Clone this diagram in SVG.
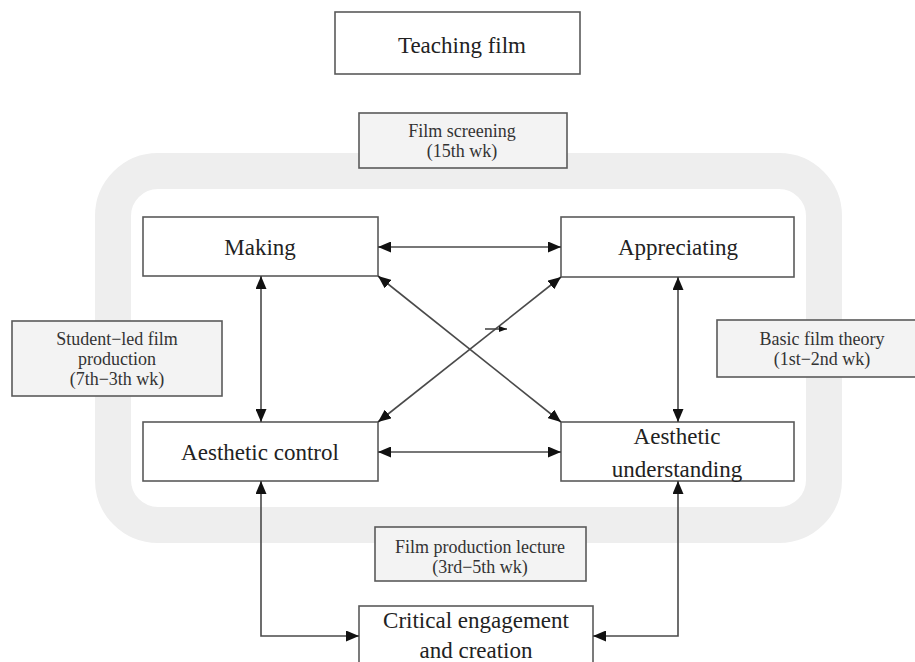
<svg xmlns="http://www.w3.org/2000/svg" width="915" height="662" viewBox="0 0 915 662">
<defs>
<style>
.box{fill:#ffffff;stroke:#5a5a5a;stroke-width:1.6}
.gbox{fill:#f3f3f3;stroke:#5a5a5a;stroke-width:1.6}
.t{font-family:"Liberation Serif","Times New Roman",serif;font-size:23px;fill:#222222;text-anchor:middle}
.s{font-family:"Liberation Serif","Times New Roman",serif;font-size:18px;fill:#333333;text-anchor:middle}
.c{fill:none;stroke:#4a4a4a;stroke-width:1.6}
</style>
<marker id="ah" viewBox="0 0 13 11" refX="13" refY="5.5" markerWidth="13" markerHeight="11" markerUnits="userSpaceOnUse" orient="auto-start-reverse">
<path d="M0,0 L13,5.5 L0,11 Z" fill="#111"/>
</marker>
<marker id="ahs" viewBox="0 0 8 6" refX="8" refY="3" markerWidth="8" markerHeight="6" markerUnits="userSpaceOnUse" orient="auto">
<path d="M0,0 L8,3 L0,6 Z" fill="#111"/>
</marker>
</defs>
<rect width="915" height="662" fill="#ffffff"/>
<g id="band">
<rect x="113" y="171" width="711" height="354" rx="45" ry="45" fill="none" stroke="#eeeeee" stroke-width="36"/>
</g>
<g id="teaching-film"><rect class="box" x="335" y="12" width="245" height="62"/><text class="t" x="462" y="53">Teaching film</text></g>
<g id="film-screening"><rect class="gbox" x="359" y="113" width="208" height="55"/><text class="s" x="462" y="137">Film screening</text><text class="s" x="462" y="157">(15th wk)</text></g>
<g id="making"><rect class="box" x="143" y="217" width="235" height="59"/><text class="t" x="260" y="255">Making</text></g>
<g id="appreciating"><rect class="box" x="561" y="217" width="233" height="60"/><text class="t" x="678" y="255">Appreciating</text></g>
<g id="student-led"><rect class="gbox" x="12" y="321" width="210" height="75"/><text class="s" x="117" y="345">Student−led film</text><text class="s" x="117" y="365">production</text><text class="s" x="117" y="385">(7th−3th wk)</text></g>
<g id="basic-theory"><rect class="gbox" x="717" y="320" width="205" height="57"/><text class="s" x="822" y="345">Basic film theory</text><text class="s" x="822" y="365">(1st−2nd wk)</text></g>
<g id="aesthetic-control"><rect class="box" x="143" y="422" width="235" height="59"/><text class="t" x="260" y="460">Aesthetic control</text></g>
<g id="aesthetic-understanding"><rect class="box" x="561" y="422" width="233" height="59"/><text class="t" x="677" y="444">Aesthetic</text><text class="t" x="677" y="477">understanding</text></g>
<g id="lecture"><rect class="gbox" x="375" y="527" width="211" height="54"/><text class="s" x="480" y="553">Film production lecture</text><text class="s" x="480" y="573">(3rd−5th wk)</text></g>
<g id="critical"><rect class="box" x="359" y="606" width="234" height="70"/><text class="t" x="476" y="628">Critical engagement</text><text class="t" x="476" y="658">and creation</text></g>
<g id="connectors">
<line class="c" x1="378" y1="247" x2="561" y2="247" marker-start="url(#ah)" marker-end="url(#ah)"/>
<line class="c" x1="378" y1="452" x2="561" y2="452" marker-start="url(#ah)" marker-end="url(#ah)"/>
<line class="c" x1="261" y1="276" x2="261" y2="422" marker-start="url(#ah)" marker-end="url(#ah)"/>
<line class="c" x1="678" y1="277" x2="678" y2="422" marker-start="url(#ah)" marker-end="url(#ah)"/>
<line class="c" x1="378" y1="276" x2="561" y2="422" marker-start="url(#ah)" marker-end="url(#ah)"/>
<line class="c" x1="561" y1="277" x2="378" y2="422" marker-start="url(#ah)" marker-end="url(#ah)"/>
<polyline class="c" points="261,481 261,636 359,636" marker-start="url(#ah)" marker-end="url(#ah)"/>
<polyline class="c" points="678,481 678,636 593,636" marker-start="url(#ah)" marker-end="url(#ah)"/>
<line class="c" x1="485" y1="329" x2="507" y2="329" stroke-width="1.2" marker-end="url(#ahs)"/>
</g>
</svg>
